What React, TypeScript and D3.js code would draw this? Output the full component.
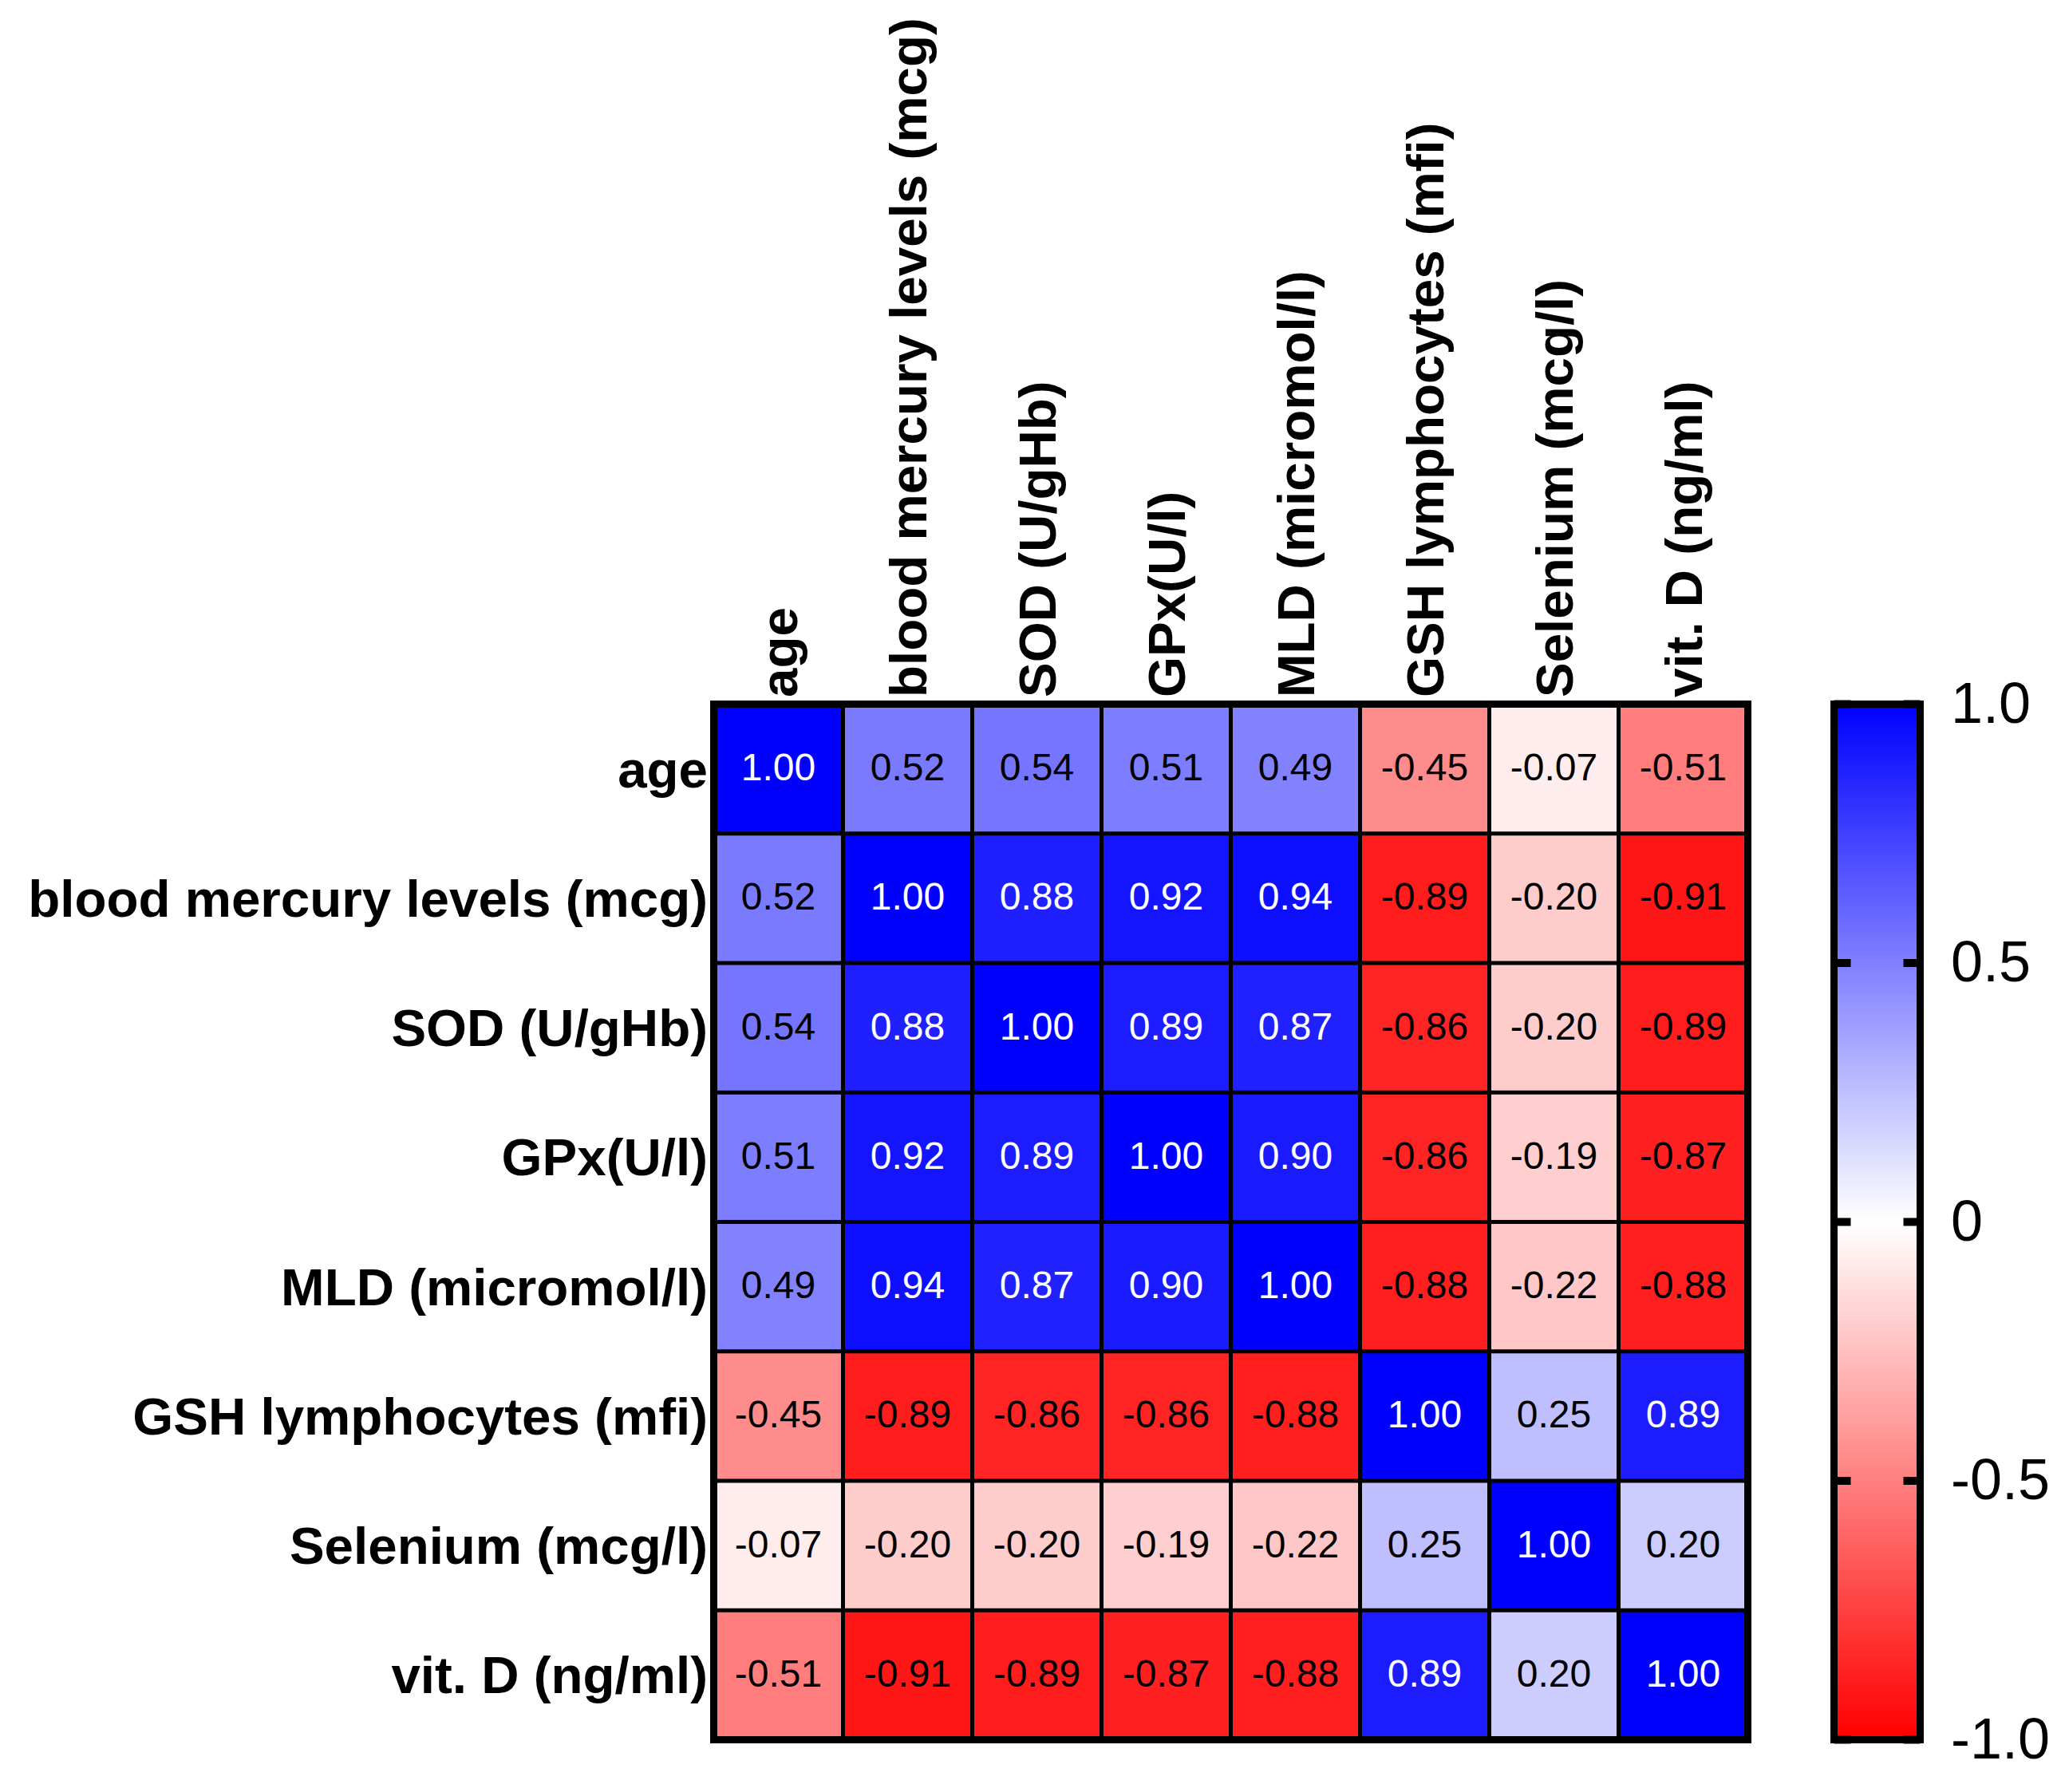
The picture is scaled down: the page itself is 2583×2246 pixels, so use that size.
import React from "react";
import * as d3 from "d3";

const labels: string[] = [
  "age",
  "blood mercury levels (mcg)",
  "SOD (U/gHb)",
  "GPx(U/l)",
  "MLD (micromol/l)",
  "GSH lymphocytes (mfi)",
  "Selenium (mcg/l)",
  "vit. D (ng/ml)",
];

const rowAge = [1.0, 0.52, 0.54, 0.51, 0.49, -0.45, -0.07, -0.51];
const rowMercury = [0.52, 1.0, 0.88, 0.92, 0.94, -0.89, -0.2, -0.91];
const rowSOD = [0.54, 0.88, 1.0, 0.89, 0.87, -0.86, -0.2, -0.89];
const rowGPx = [0.51, 0.92, 0.89, 1.0, 0.9, -0.86, -0.19, -0.87];
const rowMLD = [0.49, 0.94, 0.87, 0.9, 1.0, -0.88, -0.22, -0.88];
const rowGSH = [-0.45, -0.89, -0.86, -0.86, -0.88, 1.0, 0.25, 0.89];
const rowSelenium = [-0.07, -0.2, -0.2, -0.19, -0.22, 0.25, 1.0, 0.2];
const rowVitD = [-0.51, -0.91, -0.89, -0.87, -0.88, 0.89, 0.2, 1.0];

const matrix = [rowAge, rowMercury, rowSOD, rowGPx, rowMLD, rowGSH, rowSelenium, rowVitD];

const colorTicks = [1.0, 0.5, 0, -0.5, -1.0];
const colorTickLabels = ["1.0", "0.5", "0", "-0.5", "-1.0"];

const W = 2583;
const H = 2246;
const FONT = "'Liberation Sans', Arial, Helvetica, sans-serif";
const LABEL_SIZE = 65.5;

export default function App() {
  const gx0 = 894.5, gx1 = 2190.5, gy0 = 882.5, gy1 = 2180.5;
  const x = d3.scaleBand<string>().domain(labels).range([gx0, gx1]);
  const y = d3.scaleBand<string>().domain(labels).range([gy0, gy1]);
  const color = d3
    .scaleLinear<string>()
    .domain([-1, 0, 1])
    .range(["#ff0000", "#ffffff", "#0000ff"])
    .interpolate(d3.interpolateRgb);

  const cbx0 = 2298.5, cbx1 = 2406.5;
  const cb = d3.scaleLinear().domain([-1, 1]).range([gy1, gy0]);

  const cells: React.ReactNode[] = [];
  const texts: React.ReactNode[] = [];
  matrix.forEach((row, i) => {
    row.forEach((v, j) => {
      const cx = x(labels[j])!;
      const cy = y(labels[i])!;
      cells.push(
        <rect key={`c${i}-${j}`} x={cx} y={cy} width={x.bandwidth()} height={y.bandwidth()} fill={color(v)} />
      );
      texts.push(
        <text
          key={`t${i}-${j}`}
          x={cx + x.bandwidth() / 2}
          y={cy + y.bandwidth() / 2 + 14.5}
          textAnchor="middle"
          fontSize={48}
          fill={v > 0.7 ? "#ffffff" : "#000000"}
        >
          {v.toFixed(2)}
        </text>
      );
    });
  });

  const inner: React.ReactNode[] = [];
  labels.slice(1).forEach((l, k) => {
    inner.push(<line key={`v${k}`} x1={x(l)} x2={x(l)} y1={gy0} y2={gy1} stroke="#000" strokeWidth={5} />);
    inner.push(<line key={`h${k}`} x1={gx0} x2={gx1} y1={y(l)} y2={y(l)} stroke="#000" strokeWidth={5} />);
  });

  return (
    <svg
      width={W}
      height={H}
      viewBox={`0 0 ${W} ${H}`}
      style={{ position: "absolute", left: 0, top: 0, background: "#fff" }}
      fontFamily={FONT}
    >
      <defs>
        <linearGradient id="cbgrad" x1="0" y1="1" x2="0" y2="0">
          <stop offset="0%" stopColor={color(-1)} />
          <stop offset="50%" stopColor={color(0)} />
          <stop offset="100%" stopColor={color(1)} />
        </linearGradient>
      </defs>
      <rect x={0} y={0} width={W} height={H} fill="#fff" />
      {cells}
      {inner}
      <rect x={gx0} y={gy0} width={gx1 - gx0} height={gy1 - gy0} fill="none" stroke="#000" strokeWidth={9} />
      {texts}
      {labels.map((l) => (
        <text
          key={`r-${l}`}
          x={887}
          y={y(l)! + y.bandwidth() / 2 + 23}
          textAnchor="end"
          fontSize={LABEL_SIZE}
          fontWeight="bold"
          fill="#000"
        >
          {l}
        </text>
      ))}
      {labels.map((l) => {
        const bx = x(l)! + x.bandwidth() / 2 + 23;
        const by = 874;
        return (
          <text
            key={`col-${l}`}
            transform={`translate(${bx},${by}) rotate(-90)`}
            x={0}
            y={0}
            textAnchor="start"
            fontSize={LABEL_SIZE}
            fontWeight="bold"
            fill="#000"
          >
            {l}
          </text>
        );
      })}
      <rect x={cbx0} y={gy0} width={cbx1 - cbx0} height={gy1 - gy0} fill="url(#cbgrad)" />
      {colorTicks.map((t) => (
        <g key={`tk${t}`}>
          <line x1={cbx0} x2={cbx0 + 21} y1={cb(t)} y2={cb(t)} stroke="#000" strokeWidth={10} />
          <line x1={cbx1 - 21} x2={cbx1} y1={cb(t)} y2={cb(t)} stroke="#000" strokeWidth={10} />
        </g>
      ))}
      <rect x={cbx0} y={gy0} width={cbx1 - cbx0} height={gy1 - gy0} fill="none" stroke="#000" strokeWidth={9} />
      {colorTicks.map((t, k) => (
        <text key={`tl${t}`} x={2445} y={cb(t) + 23} fontSize={72} fill="#000">
          {colorTickLabels[k]}
        </text>
      ))}
    </svg>
  );
}
